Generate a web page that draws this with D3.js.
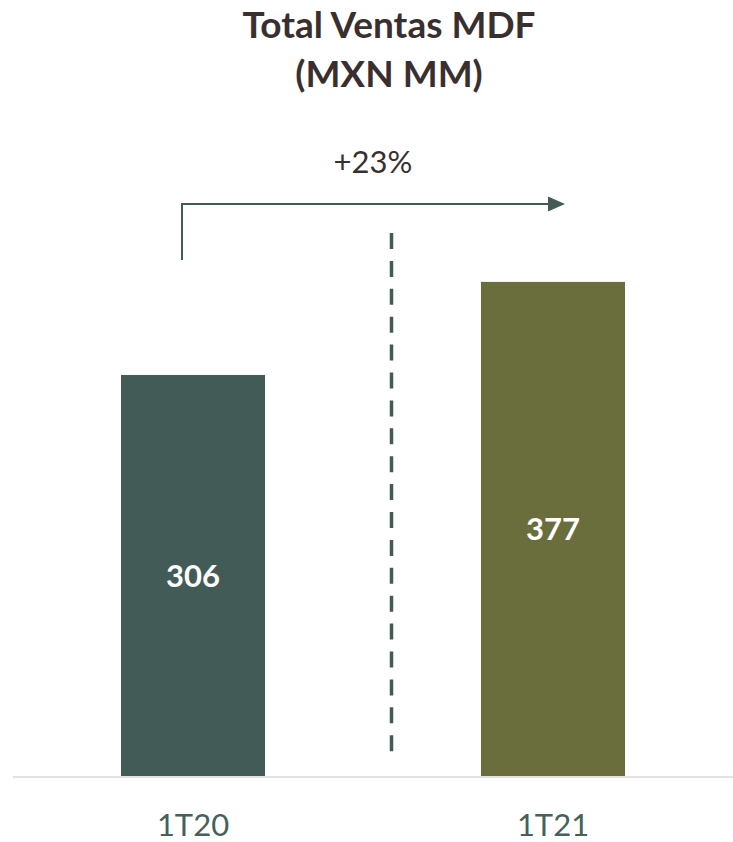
<!DOCTYPE html>
<html>
<head>
<meta charset="utf-8">
<title>Total Ventas MDF</title>
<style>
body {
  margin: 0;
  background: #fff;
  font-family: Lato, "Open Sans", sans-serif;
}
.title {
  font-size: 37px;
  font-weight: 700;
  fill: #3a2f2f;
}
.bar-label {
  font-size: 31px;
  font-weight: 700;
  fill: #fff;
}
.cat-label {
  font-size: 31px;
  fill: #46605b;
}
.growth {
  font-size: 31px;
  fill: #3a2f2f;
}
</style>
</head>
<body>
<div id="vis"></div>
<script src="https://cdnjs.cloudflare.com/ajax/libs/d3/7.8.5/d3.min.js"></script>
<script>

// Data
var periods = ["1T20", "1T21"];
var ventas = [306, 377];
var barColors = ["#435b56", "#696e3c"];
var titleLines = ["Total Ventas MDF", "(MXN MM)"];

var width = 733,
    height = 842,
    baseY = 776;

var svg = d3.select("#vis").append("svg")
    .attr("width", width)
    .attr("height", height);

// Scales
var x = d3.scaleBand()
    .domain(periods)
    .range([13, 733])
    .paddingInner(0.6)
    .paddingOuter(0.3);

var y = d3.scaleLinear()
    .domain([0, 400])
    .range([baseY, baseY - 400 * 1.3106]);

// Title
svg.selectAll(".title")
    .data(titleLines)
    .enter().append("text")
    .attr("class", "title")
    .attr("x", 389)
    .attr("y", function(d, i) { return 38 + i * 49; })
    .attr("text-anchor", "middle")
    .text(function(d) { return d; });

// Bars
svg.selectAll(".bar")
    .data(ventas)
    .enter().append("rect")
    .attr("class", "bar")
    .attr("x", function(d, i) { return x(periods[i]); })
    .attr("y", function(d) { return y(d); })
    .attr("width", x.bandwidth())
    .attr("height", function(d) { return y(0) - y(d); })
    .attr("fill", function(d, i) { return barColors[i]; });

// Baseline
svg.append("line")
    .attr("x1", 13)
    .attr("x2", width)
    .attr("y1", y(0) + 1)
    .attr("y2", y(0) + 1)
    .attr("stroke", "#e6e1e1")
    .attr("stroke-width", 2);

// Values inside the bars
svg.selectAll(".bar-label")
    .data(ventas)
    .enter().append("text")
    .attr("class", "bar-label")
    .attr("x", function(d, i) { return x(periods[i]) + x.bandwidth() / 2; })
    .attr("y", function(d) { return (y(d) + y(0)) / 2; })
    .attr("dy", "0.36em")
    .attr("text-anchor", "middle")
    .text(function(d) { return d; });

// Category labels
svg.selectAll(".cat-label")
    .data(periods)
    .enter().append("text")
    .attr("class", "cat-label")
    .attr("x", function(d) { return x(d) + x.bandwidth() / 2; })
    .attr("y", 836)
    .attr("text-anchor", "middle")
    .text(function(d) { return d; });

// Dashed separator
svg.append("line")
    .attr("x1", 391.5)
    .attr("x2", 391.5)
    .attr("y1", 233)
    .attr("y2", 752)
    .attr("stroke", "#435b56")
    .attr("stroke-width", 3.5)
    .attr("stroke-dasharray", "16,11.9");

// Growth arrow
var arrowColor = "#435b56";
var ax0 = x(periods[0]) + x.bandwidth() / 2 - 11,
    ax1 = x(periods[1]) + 69,
    ay = 204;

svg.append("path")
    .attr("d", "M" + ax0 + ",260V" + ay + "H" + ax1)
    .attr("fill", "none")
    .attr("stroke", arrowColor)
    .attr("stroke-width", 2);

svg.append("path")
    .attr("d", "M" + (ax1 - 2) + "," + (ay - 7.5) + "L" + (ax1 + 15) + "," + ay + "L" + (ax1 - 2) + "," + (ay + 7.5) + "Z")
    .attr("fill", arrowColor);

var growth = Math.round((ventas[1] / ventas[0] - 1) * 100);
svg.append("text")
    .attr("class", "growth")
    .attr("x", (x(periods[0]) + x.bandwidth() + x(periods[1])) / 2)
    .attr("y", 173)
    .attr("text-anchor", "middle")
    .text("+" + growth + "%");

</script>
</body>
</html>
